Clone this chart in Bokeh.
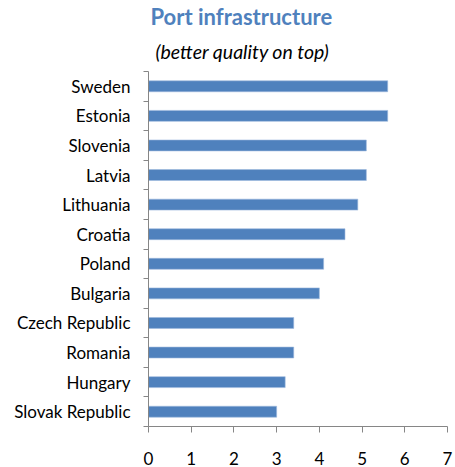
from bokeh.plotting import figure
from bokeh.models import Range1d, FixedTicker, Title, ColumnDataSource
from bokeh.embed import file_html
from bokeh.resources import INLINE

countries = ["Sweden", "Estonia", "Slovenia", "Latvia", "Lithuania", "Croatia",
             "Poland", "Bulgaria", "Czech Republic", "Romania", "Hungary", "Slovak Republic"]
scores = [5.6, 5.6, 5.1, 5.1, 4.9, 4.6, 4.1, 4.0, 3.4, 3.4, 3.2, 3.0]
x_ticks = [0, 1, 2, 3, 4, 5, 6, 7]
title_text = "Port infrastructure"
subtitle_text = "(better quality on top)"

n = len(countries)
ypos = [n - i - 0.5 for i in range(n)]
src = ColumnDataSource(dict(y=ypos, right=scores, name=countries))

FONT = "Lato"
BLUE = "#4F81BD"
AXIS = "#868686"

p = figure(width=455, height=467, output_backend="svg", toolbar_location=None,
           x_range=Range1d(0, 7), y_range=Range1d(0, n),
           min_border_left=148, min_border_right=8, min_border_top=71, min_border_bottom=38)
p.outline_line_color = None
p.xgrid.grid_line_color = None
p.ygrid.grid_line_color = None
p.background_fill_color = "white"
p.border_fill_color = "white"

p.hbar(y="y", right="right", left=0, height=0.37, source=src,
       fill_color=BLUE, line_color="#9DB9DD", line_width=0.6)

# x axis
xa = p.xaxis[0]
xa.ticker = FixedTicker(ticks=x_ticks, minor_ticks=[])
xa.axis_line_color = AXIS
xa.major_tick_line_color = AXIS
xa.major_tick_out = 6
xa.major_tick_in = 0
xa.minor_tick_line_color = None
xa.major_label_standoff = 19
xa.major_label_text_font = FONT
xa.major_label_text_font_size = "17px"
xa.major_label_text_color = "#000000"

# y axis: labels at centers, ticks at category boundaries
ya = p.yaxis[0]
ya.ticker = FixedTicker(ticks=ypos, minor_ticks=[float(k) for k in range(n + 1)])
ya.major_label_overrides = {y: c for y, c in zip(ypos, countries)}
ya.axis_line_color = AXIS
ya.major_tick_line_color = None
ya.major_tick_out = 5
ya.minor_tick_line_color = AXIS
ya.minor_tick_out = 5
ya.minor_tick_in = 0
ya.major_label_standoff = 13
ya.major_label_text_font = FONT
ya.major_label_text_font_size = "17px"
ya.major_label_text_color = "#000000"

p.add_layout(Title(text=subtitle_text, align="left", offset=7,
                   text_font=FONT, text_font_style="italic", text_font_size="19.5px",
                   text_color="#000000", standoff=17, text_line_height=0.85), "above")
p.add_layout(Title(text=title_text, align="left", offset=2,
                   text_font=FONT, text_font_style="bold", text_font_size="22px",
                   text_color=BLUE, standoff=0, text_line_height=0.8), "above")

open("out.html", "w").write(file_html(p, INLINE))
